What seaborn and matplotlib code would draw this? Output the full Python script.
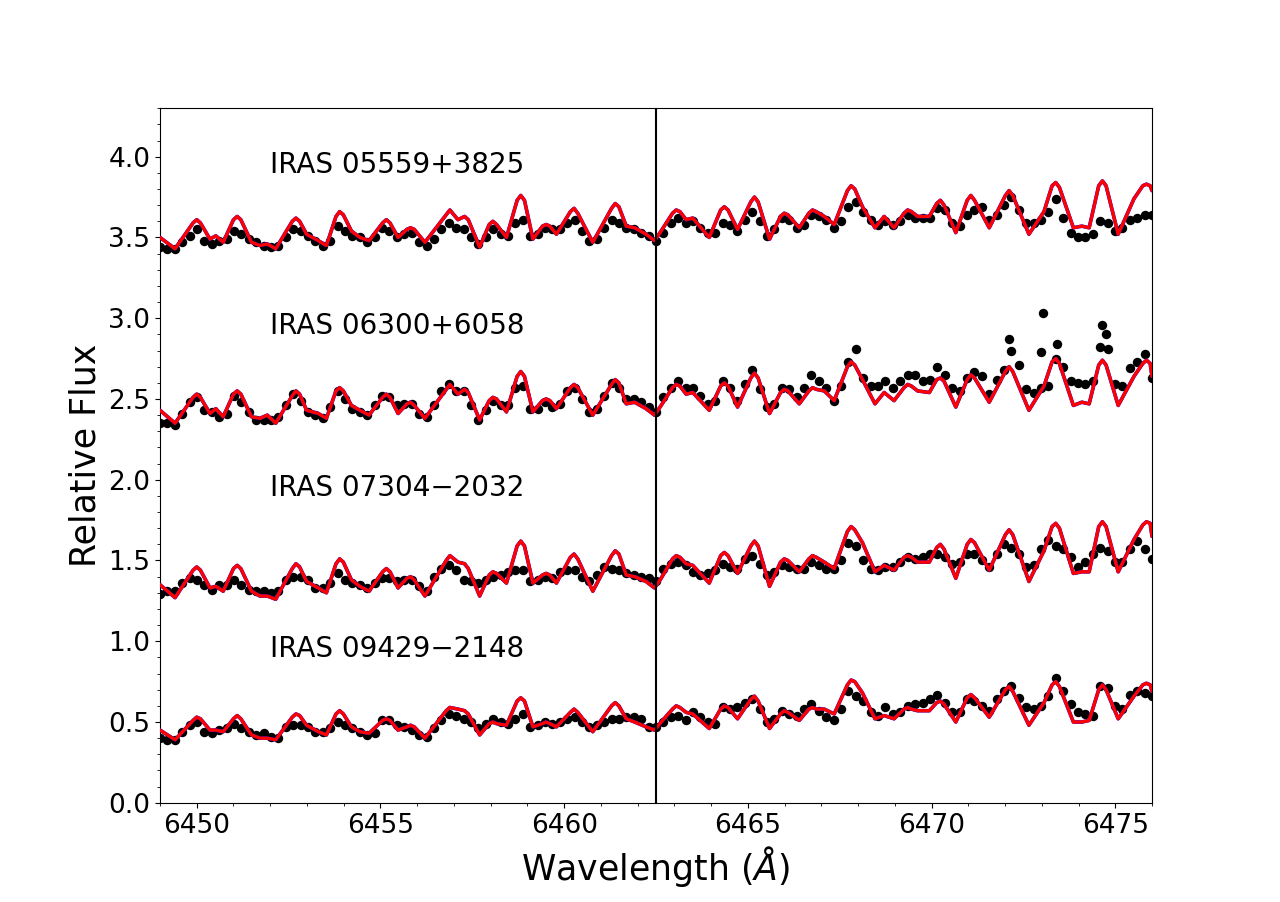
import numpy as np
import pandas as pd
import matplotlib
matplotlib.use("Agg")
import matplotlib.pyplot as plt
import seaborn as sns
from matplotlib.ticker import MultipleLocator

# ---------------- data ----------------
stars = ["IRAS 05559+3825", "IRAS 06300+6058", "IRAS 07304\u22122032", "IRAS 09429\u22122148"]
label_wave = 6452.0
label_flux = [3.9, 2.9, 1.9, 0.9]
line_center = 6462.5

# observed spectra (sampled on a regular wavelength grid)
obs_wave = np.linspace(6449.0, 6476.0, 135)
obs_1 = [3.44, 3.43, 3.43, 3.47, 3.51, 3.55, 3.48, 3.46, 3.48, 3.49,
         3.54, 3.52, 3.49, 3.47, 3.45, 3.44, 3.45, 3.50, 3.55, 3.54,
         3.51, 3.48, 3.45, 3.48, 3.57, 3.54, 3.51, 3.50, 3.47, 3.50,
         3.56, 3.54, 3.50, 3.52, 3.53, 3.47, 3.45, 3.49, 3.55, 3.59,
         3.56, 3.55, 3.50, 3.46, 3.50, 3.55, 3.52, 3.51, 3.59, 3.61,
         3.51, 3.52, 3.56, 3.55, 3.55, 3.59, 3.61, 3.54, 3.48, 3.49,
         3.56, 3.61, 3.59, 3.56, 3.55, 3.53, 3.51, 3.48,
         3.53, 3.59, 3.62, 3.59, 3.60, 3.56, 3.53, 3.53, 3.59, 3.58,
         3.54, 3.61, 3.66, 3.60, 3.51, 3.55, 3.62, 3.61, 3.56, 3.58,
         3.64, 3.63, 3.61, 3.56, 3.60, 3.69, 3.72, 3.66, 3.61, 3.58,
         3.60, 3.58, 3.60, 3.64, 3.62, 3.62, 3.62, 3.68, 3.67, 3.59,
         3.57, 3.64, 3.67, 3.69, 3.61, 3.64, 3.70, 3.75, 3.67, 3.59,
         3.59, 3.61, 3.66, 3.74, 3.62, 3.53, 3.50, 3.50, 3.52, 3.60,
         3.59, 3.54, 3.56, 3.61, 3.62, 3.64, 3.64]
obs_2 = [2.35, 2.35, 2.34, 2.41, 2.48, 2.51, 2.43, 2.42, 2.39, 2.41,
         2.52, 2.48, 2.42, 2.37, 2.37, 2.37, 2.39, 2.46, 2.53, 2.49,
         2.42, 2.40, 2.38, 2.45, 2.55, 2.50, 2.44, 2.42, 2.40, 2.46,
         2.52, 2.51, 2.46, 2.47, 2.47, 2.41, 2.39, 2.46, 2.55, 2.59,
         2.55, 2.55, 2.46, 2.37, 2.43, 2.49, 2.46, 2.46, 2.57, 2.58,
         2.44, 2.44, 2.48, 2.45, 2.47, 2.55, 2.57, 2.50, 2.42, 2.44,
         2.52, 2.60, 2.57, 2.50, 2.50, 2.48, 2.45, 2.42,
         2.51, 2.57, 2.61, 2.57, 2.57, 2.52, 2.47, 2.49, 2.61, 2.57,
         2.49, 2.59, 2.68, 2.56, 2.45, 2.47, 2.57, 2.56, 2.51, 2.57,
         2.65, 2.61, 2.57, 2.49, 2.58, 2.73, 2.81, 2.63, 2.58, 2.58,
         2.61, 2.57, 2.61, 2.65, 2.65, 2.61, 2.62, 2.70, 2.65, 2.57,
         2.55, 2.63, 2.67, 2.64, 2.53, 2.62, 2.68, 2.80, 2.71, 2.56,
         2.54, 2.57, 2.58, 2.75, 2.70, 2.61, 2.60, 2.59, 2.61, 2.82,
         2.81, 2.59, 2.58, 2.69, 2.73, 2.78, 2.63]
obs_3 = [1.29, 1.31, 1.31, 1.36, 1.39, 1.38, 1.35, 1.32, 1.35, 1.35,
         1.38, 1.35, 1.32, 1.31, 1.31, 1.30, 1.31, 1.38, 1.40, 1.40,
         1.38, 1.33, 1.33, 1.36, 1.42, 1.38, 1.36, 1.35, 1.33, 1.36,
         1.39, 1.39, 1.37, 1.38, 1.38, 1.34, 1.31, 1.40, 1.45, 1.47,
         1.44, 1.38, 1.37, 1.36, 1.38, 1.40, 1.41, 1.43, 1.44, 1.44,
         1.37, 1.38, 1.40, 1.39, 1.43, 1.44, 1.44, 1.40, 1.37, 1.41,
         1.46, 1.45, 1.44, 1.42, 1.41, 1.40, 1.39, 1.37,
         1.45, 1.48, 1.49, 1.47, 1.43, 1.41, 1.42, 1.44, 1.48, 1.46,
         1.45, 1.51, 1.53, 1.48, 1.41, 1.43, 1.47, 1.46, 1.45, 1.45,
         1.49, 1.47, 1.45, 1.45, 1.50, 1.61, 1.59, 1.50, 1.45, 1.44,
         1.46, 1.46, 1.49, 1.52, 1.51, 1.52, 1.54, 1.54, 1.52, 1.48,
         1.49, 1.54, 1.54, 1.50, 1.46, 1.54, 1.60, 1.58, 1.54, 1.46,
         1.47, 1.57, 1.63, 1.59, 1.57, 1.52, 1.46, 1.49, 1.54, 1.58,
         1.56, 1.49, 1.49, 1.57, 1.62, 1.57, 1.51]
obs_4 = [0.40, 0.39, 0.39, 0.44, 0.48, 0.50, 0.44, 0.43, 0.45, 0.46,
         0.49, 0.46, 0.44, 0.42, 0.43, 0.41, 0.40, 0.47, 0.48, 0.48,
         0.47, 0.44, 0.44, 0.46, 0.50, 0.48, 0.46, 0.44, 0.42, 0.43,
         0.51, 0.51, 0.48, 0.47, 0.45, 0.42, 0.41, 0.46, 0.51, 0.55,
         0.54, 0.52, 0.50, 0.46, 0.49, 0.52, 0.50, 0.49, 0.52, 0.55,
         0.47, 0.48, 0.50, 0.49, 0.50, 0.52, 0.53, 0.50, 0.47, 0.48,
         0.50, 0.52, 0.52, 0.53, 0.53, 0.52, 0.47, 0.47,
         0.50, 0.53, 0.54, 0.51, 0.56, 0.53, 0.50, 0.49, 0.59, 0.58,
         0.59, 0.62, 0.64, 0.58, 0.50, 0.52, 0.57, 0.55, 0.54, 0.58,
         0.61, 0.57, 0.53, 0.51, 0.58, 0.69, 0.66, 0.63, 0.56, 0.54,
         0.59, 0.55, 0.56, 0.60, 0.61, 0.62, 0.64, 0.67, 0.62, 0.56,
         0.56, 0.64, 0.63, 0.60, 0.57, 0.64, 0.69, 0.72, 0.65, 0.59,
         0.58, 0.60, 0.66, 0.77, 0.69, 0.61, 0.56, 0.55, 0.54, 0.72,
         0.71, 0.60, 0.58, 0.67, 0.69, 0.68, 0.66]

# isolated high points (spikes) in the second spectrum
spike_wave_2 = [6472.11, 6472.97, 6473.02, 6473.42, 6474.65, 6474.74]
spike_flux_2 = [2.87, 2.79, 3.03, 2.84, 2.96, 2.90]

# synthetic spectra, read at turning points and near the line cores
model_wave = [6449.00, 6449.41, 6449.90, 6450.00, 6450.10, 6450.36, 6450.52, 6450.72,
              6451.00, 6451.10, 6451.20, 6451.49, 6451.72, 6451.92, 6452.15, 6452.60,
              6452.70, 6452.80, 6452.99, 6453.31, 6453.53, 6453.79, 6453.89, 6453.99,
              6454.21, 6454.44, 6454.69, 6455.06, 6455.16, 6455.26, 6455.48, 6455.72,
              6455.82, 6455.92, 6456.21, 6456.79, 6456.89, 6457.11, 6457.29, 6457.39,
              6457.70, 6457.96, 6458.06, 6458.16, 6458.43, 6458.72, 6458.82, 6458.92,
              6459.15, 6459.41, 6459.51, 6459.61, 6459.79, 6460.17, 6460.27, 6460.37,
              6460.78, 6461.29, 6461.39, 6461.49, 6461.69, 6461.92, 6462.23, 6462.46,
              6462.64, 6462.95, 6463.05, 6463.15, 6463.32, 6463.50, 6463.95, 6464.26,
              6464.36, 6464.46, 6464.72, 6465.08, 6465.18, 6465.28, 6465.59, 6465.89,
              6465.99, 6466.09, 6466.40, 6466.66, 6466.76, 6466.86, 6467.08, 6467.35,
              6467.71, 6467.81, 6467.91, 6468.12, 6468.46, 6468.71, 6468.98, 6469.25,
              6469.35, 6469.45, 6469.62, 6469.94, 6470.14, 6470.24, 6470.34, 6470.66,
              6470.97, 6471.07, 6471.17, 6471.57, 6472.01, 6472.11, 6472.21, 6472.65,
              6473.06, 6473.28, 6473.38, 6473.48, 6473.86, 6474.09, 6474.29, 6474.55,
              6474.65, 6474.75, 6475.08, 6475.51, 6475.75, 6475.85, 6475.95, 6476.00]
# red model
red_1 = [3.50, 3.43, 3.59, 3.61, 3.59, 3.49, 3.51, 3.47,
         3.61, 3.63, 3.61, 3.47, 3.45, 3.46, 3.43, 3.60,
         3.62, 3.60, 3.52, 3.48, 3.45, 3.63, 3.66, 3.64,
         3.54, 3.50, 3.48, 3.59, 3.61, 3.59, 3.50, 3.55,
         3.56, 3.55, 3.47, 3.64, 3.67, 3.61, 3.63, 3.61,
         3.44, 3.58, 3.60, 3.58, 3.50, 3.73, 3.76, 3.73,
         3.49, 3.57, 3.58, 3.57, 3.52, 3.66, 3.68, 3.65,
         3.47, 3.68, 3.71, 3.69, 3.57, 3.56, 3.52, 3.48,
         3.54, 3.65, 3.67, 3.66, 3.61, 3.62, 3.50, 3.67,
         3.69, 3.67, 3.55, 3.72, 3.75, 3.72, 3.49, 3.63,
         3.65, 3.64, 3.56, 3.65, 3.67, 3.66, 3.63, 3.58,
         3.79, 3.82, 3.80, 3.69, 3.56, 3.63, 3.56, 3.65,
         3.67, 3.66, 3.63, 3.63, 3.71, 3.73, 3.70, 3.53,
         3.73, 3.76, 3.73, 3.56, 3.76, 3.79, 3.76, 3.52,
         3.66, 3.82, 3.84, 3.81, 3.56, 3.57, 3.56, 3.82,
         3.85, 3.82, 3.52, 3.74, 3.82, 3.83, 3.82, 3.79]
red_2 = [2.43, 2.35, 2.51, 2.53, 2.51, 2.41, 2.44, 2.39,
         2.53, 2.55, 2.53, 2.39, 2.38, 2.40, 2.35, 2.52,
         2.55, 2.53, 2.43, 2.41, 2.38, 2.55, 2.57, 2.55,
         2.46, 2.43, 2.40, 2.51, 2.53, 2.51, 2.41, 2.47,
         2.48, 2.46, 2.38, 2.56, 2.59, 2.53, 2.56, 2.54,
         2.37, 2.49, 2.51, 2.50, 2.42, 2.64, 2.67, 2.64,
         2.42, 2.49, 2.50, 2.49, 2.44, 2.57, 2.59, 2.57,
         2.40, 2.59, 2.62, 2.60, 2.47, 2.48, 2.44, 2.40,
         2.46, 2.57, 2.59, 2.58, 2.53, 2.54, 2.43, 2.58,
         2.60, 2.58, 2.45, 2.63, 2.66, 2.63, 2.41, 2.54,
         2.56, 2.55, 2.47, 2.55, 2.57, 2.56, 2.55, 2.49,
         2.70, 2.73, 2.71, 2.62, 2.47, 2.54, 2.49, 2.57,
         2.59, 2.58, 2.55, 2.54, 2.62, 2.63, 2.61, 2.45,
         2.62, 2.65, 2.63, 2.48, 2.67, 2.70, 2.67, 2.43,
         2.58, 2.73, 2.75, 2.72, 2.46, 2.48, 2.47, 2.71,
         2.74, 2.71, 2.46, 2.64, 2.72, 2.74, 2.72, 2.64]
red_3 = [1.35, 1.27, 1.44, 1.46, 1.44, 1.33, 1.34, 1.31,
         1.45, 1.47, 1.45, 1.31, 1.28, 1.28, 1.26, 1.45,
         1.48, 1.46, 1.37, 1.33, 1.30, 1.48, 1.51, 1.49,
         1.38, 1.34, 1.31, 1.43, 1.45, 1.43, 1.33, 1.39,
         1.40, 1.38, 1.28, 1.50, 1.53, 1.49, 1.48, 1.45,
         1.28, 1.41, 1.43, 1.42, 1.36, 1.59, 1.62, 1.59,
         1.36, 1.41, 1.42, 1.41, 1.36, 1.52, 1.54, 1.51,
         1.31, 1.53, 1.56, 1.54, 1.41, 1.40, 1.37, 1.33,
         1.39, 1.51, 1.53, 1.52, 1.48, 1.47, 1.36, 1.53,
         1.55, 1.53, 1.42, 1.59, 1.62, 1.59, 1.34, 1.49,
         1.51, 1.50, 1.43, 1.51, 1.53, 1.52, 1.49, 1.45,
         1.68, 1.71, 1.69, 1.61, 1.43, 1.47, 1.44, 1.52,
         1.53, 1.52, 1.49, 1.49, 1.58, 1.60, 1.57, 1.39,
         1.60, 1.63, 1.61, 1.44, 1.66, 1.69, 1.66, 1.37,
         1.56, 1.71, 1.73, 1.70, 1.42, 1.43, 1.43, 1.71,
         1.74, 1.71, 1.43, 1.63, 1.72, 1.74, 1.73, 1.65]
red_4 = [0.45, 0.39, 0.51, 0.53, 0.52, 0.45, 0.45, 0.44,
         0.52, 0.54, 0.52, 0.42, 0.40, 0.40, 0.39, 0.53,
         0.55, 0.54, 0.48, 0.44, 0.42, 0.55, 0.57, 0.55,
         0.47, 0.44, 0.43, 0.51, 0.52, 0.51, 0.45, 0.47,
         0.48, 0.47, 0.40, 0.57, 0.59, 0.58, 0.57, 0.55,
         0.42, 0.49, 0.50, 0.49, 0.48, 0.63, 0.65, 0.63,
         0.47, 0.49, 0.50, 0.49, 0.47, 0.56, 0.58, 0.56,
         0.44, 0.60, 0.62, 0.60, 0.52, 0.50, 0.47, 0.45,
         0.50, 0.58, 0.60, 0.59, 0.56, 0.55, 0.46, 0.58,
         0.60, 0.59, 0.52, 0.64, 0.66, 0.63, 0.46, 0.55,
         0.57, 0.56, 0.51, 0.58, 0.59, 0.58, 0.58, 0.55,
         0.73, 0.76, 0.75, 0.68, 0.52, 0.54, 0.52, 0.58,
         0.59, 0.58, 0.57, 0.57, 0.62, 0.63, 0.61, 0.50,
         0.65, 0.67, 0.65, 0.53, 0.70, 0.72, 0.69, 0.48,
         0.62, 0.73, 0.75, 0.72, 0.50, 0.50, 0.51, 0.70,
         0.73, 0.70, 0.52, 0.66, 0.73, 0.74, 0.73, 0.69]
# blue model: lies under the red one, indistinguishable at this resolution
blue_1, blue_2, blue_3, blue_4 = red_1, red_2, red_3, red_4

obs_all = [obs_1, obs_2, obs_3, obs_4]
red_all = [red_1, red_2, red_3, red_4]
blue_all = [blue_1, blue_2, blue_3, blue_4]

# ---------------- style ----------------
sns.set_style("ticks", {
    "axes.edgecolor": "black", "xtick.color": "black", "ytick.color": "black",
    "text.color": "black", "axes.labelcolor": "black",
    "xtick.direction": "out", "ytick.direction": "out",
})
plt.rcParams["font.family"] = ["DejaVu Sans"]
plt.rcParams["mathtext.fontset"] = "dejavusans"

fig, ax = plt.subplots(figsize=(12.8, 9.02), dpi=100)
fig.subplots_adjust(left=0.125, right=0.9, bottom=0.11, top=0.88)

for i in range(4):
    sns.scatterplot(x=obs_wave, y=obs_all[i], color="black", s=46,
                    linewidth=0, ax=ax, zorder=2, legend=False)
    if i == 1:
        sns.scatterplot(x=spike_wave_2, y=spike_flux_2, color="black", s=46,
                        linewidth=0, ax=ax, zorder=2, legend=False)
    sns.lineplot(x=model_wave, y=blue_all[i], color="blue", linewidth=2.6,
                 sort=False, estimator=None, ax=ax, zorder=3)
    sns.lineplot(x=model_wave, y=red_all[i], color="red", linewidth=2.4,
                 sort=False, estimator=None, ax=ax, zorder=4)
    ax.text(label_wave, label_flux[i], stars[i], fontsize=20, color="black")

ax.axvline(line_center, color="black", linewidth=1.5, zorder=5)

ax.set_xlim(6449.0, 6476.0)
ax.set_ylim(0.0, 4.3)
ax.xaxis.set_major_locator(MultipleLocator(5))
ax.xaxis.set_minor_locator(MultipleLocator(1))
ax.yaxis.set_major_locator(MultipleLocator(0.5))
ax.yaxis.set_minor_locator(MultipleLocator(0.1))
ax.tick_params(which="major", length=3.5, width=0.8, labelsize=19)
ax.tick_params(which="minor", length=2, width=0.6)
for sp in ax.spines.values():
    sp.set_visible(True)
    sp.set_linewidth(0.8)

ax.set_xlabel(r"Wavelength ($\AA$)", fontsize=25)
ax.set_ylabel("Relative Flux", fontsize=25)

fig.savefig("out.png", dpi=100)
